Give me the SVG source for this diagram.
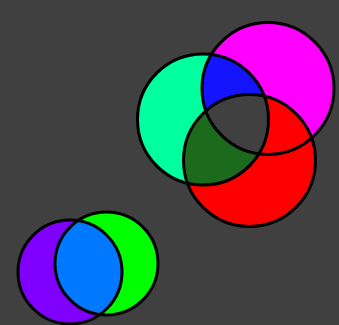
<svg xmlns="http://www.w3.org/2000/svg" width="339" height="325" viewBox="0 0 339 325">
  <defs>
    <circle id="cA" cx="203" cy="119.5" r="65.5"/>
    <circle id="cB" cx="268" cy="88.5" r="66"/>
    <circle id="cC" cx="249.5" cy="160.5" r="66"/>
    <circle id="cP" cx="70" cy="272" r="52"/>
    <circle id="cG" cx="106.5" cy="263.5" r="51.5"/>
    <clipPath id="clipB"><use href="#cB"/></clipPath>
    <clipPath id="clipC"><use href="#cC"/></clipPath>
    <clipPath id="clipP"><use href="#cP"/></clipPath>
  </defs>
  <style>
    .ol { fill: none; stroke: #000; stroke-width: 3; }
  </style>
  <rect width="339" height="325" fill="#404040"/>
  <g id="venn-three">
    <use href="#cA" fill="#00ff9f"/>
    <use href="#cB" fill="#ff00ff"/>
    <use href="#cC" fill="#ff0000"/>
    <g clip-path="url(#clipB)"><use href="#cA" fill="#1414ff"/></g>
    <g clip-path="url(#clipC)"><use href="#cA" fill="#1c6a1c"/></g>
    <g clip-path="url(#clipC)"><g clip-path="url(#clipB)"><use href="#cA" fill="#404040"/></g></g>
    <use href="#cA" class="ol"/>
    <use href="#cB" class="ol"/>
    <use href="#cC" class="ol"/>
  </g>
  <g id="venn-two">
    <use href="#cP" fill="#8000ff"/>
    <use href="#cG" fill="#00ff00"/>
    <g clip-path="url(#clipP)"><use href="#cG" fill="#0078ff"/></g>
    <use href="#cP" class="ol"/>
    <use href="#cG" class="ol"/>
  </g>
</svg>
